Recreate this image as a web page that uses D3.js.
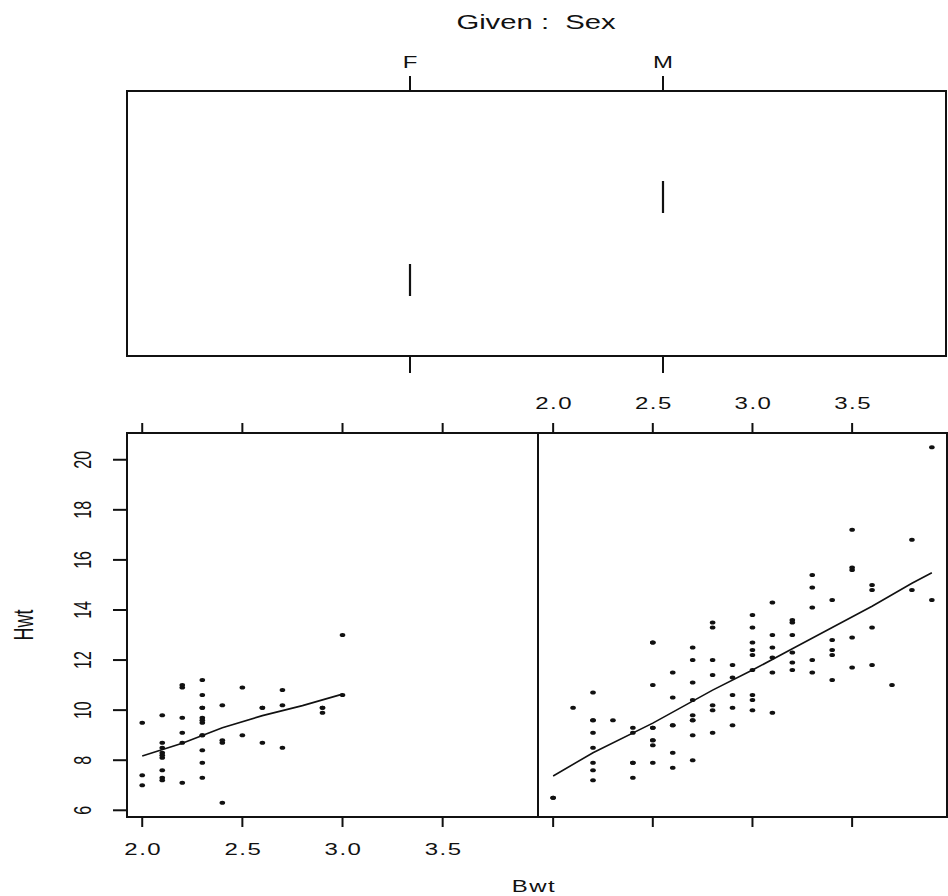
<!DOCTYPE html>
<html>
<head>
<meta charset="utf-8">
<script src="https://cdn.jsdelivr.net/npm/d3@7"></script>
<style>
  body { margin: 0; background: #fff; }
  text { font-family: "Liberation Sans", Arial, sans-serif; fill: #111; }
</style>
</head>
<body>
<div id="coplot"></div>
<script>
// cats data (Bwt, Hwt) split by Sex
const femaleBwt = [2.0,2.0,2.0,2.1,2.1,2.1,2.1,2.1,2.1,2.1,2.1,2.1,2.2,2.2,2.2,2.2,2.2,2.2,
  2.3,2.3,2.3,2.3,2.3,2.3,2.3,2.3,2.3,2.3,2.3,2.3,2.4,2.4,2.4,2.4,2.5,2.5,2.6,2.6,2.6,
  2.7,2.7,2.7,2.9,2.9,2.9,3.0,3.0];
const femaleHwt = [7.0,7.4,9.5,7.2,7.3,7.6,8.1,8.2,8.3,8.5,8.7,9.8,7.1,8.7,9.1,9.7,10.9,11.0,
  7.3,7.9,8.4,9.0,9.0,9.5,9.6,9.7,10.1,10.1,10.6,11.2,6.3,8.7,8.8,10.2,9.0,10.9,8.7,10.1,10.1,
  8.5,10.2,10.8,9.9,10.1,10.1,10.6,13.0];

const maleBwt = [2.0,2.0,2.1,2.2,2.2,2.2,2.2,2.2,2.2,2.2,2.2,2.3,2.4,2.4,2.4,2.4,2.4,
  2.5,2.5,2.5,2.5,2.5,2.5,2.5,2.5,2.5,2.6,2.6,2.6,2.6,2.6,2.6,
  2.7,2.7,2.7,2.7,2.7,2.7,2.7,2.7,2.7,2.8,2.8,2.8,2.8,2.8,2.8,2.8,
  2.9,2.9,2.9,2.9,2.9,3.0,3.0,3.0,3.0,3.0,3.0,3.0,3.0,3.0,
  3.1,3.1,3.1,3.1,3.1,3.1,3.2,3.2,3.2,3.2,3.2,3.2,3.3,3.3,3.3,3.3,3.3,
  3.4,3.4,3.4,3.4,3.4,3.5,3.5,3.5,3.5,3.5,3.6,3.6,3.6,3.6,3.7,3.8,3.8,3.9,3.9];
const maleHwt = [6.5,6.5,10.1,7.2,7.6,7.9,8.5,9.1,9.6,9.6,10.7,9.6,7.3,7.9,7.9,9.1,9.3,
  7.9,8.6,8.8,8.8,9.3,9.3,11.0,12.7,12.7,7.7,8.3,9.4,9.4,10.5,11.5,
  8.0,9.0,9.6,9.6,9.8,10.4,11.1,12.0,12.5,9.1,10.0,10.2,11.4,12.0,13.3,13.5,
  9.4,10.1,10.6,11.3,11.8,10.0,10.4,10.6,11.6,12.2,12.4,12.7,13.3,13.8,
  9.9,11.5,12.1,12.5,13.0,14.3,11.6,11.9,12.3,13.0,13.5,13.6,11.5,12.0,14.1,14.9,15.4,
  11.2,12.2,12.4,12.8,14.4,11.7,12.9,15.6,15.7,17.2,11.8,13.3,14.8,15.0,11.0,14.8,16.8,14.4,20.5];

// smooth lines
const femaleFitBwt = [2.0, 2.2, 2.4, 2.6, 2.8, 3.0];
const femaleFitHwt = [8.17, 8.68, 9.3, 9.78, 10.18, 10.64];
const maleFitBwt = [2.0, 2.2, 2.5, 2.8, 3.0, 3.2, 3.4, 3.6, 3.8, 3.9];
const maleFitHwt = [7.37, 8.3, 9.48, 10.8, 11.6, 12.45, 13.3, 14.15, 15.07, 15.49];

const sexLevels = ["F", "M"];
const xTicks = [2.0, 2.5, 3.0, 3.5];
const yTicks = [6, 8, 10, 12, 14, 16, 18, 20];

const width = 948, height = 896;
const sx = 1.5; // horizontal stretch of the lettering

const svg = d3.select("#coplot")
  .append("svg")
  .attr("width", width)
  .attr("height", height);

svg.append("rect").attr("width", width).attr("height", height).attr("fill", "#fff");

const hText = (x, y, txt, size, spacing = 0) =>
  svg.append("text")
    .attr("transform", `translate(${x},${y}) scale(${sx},1)`)
    .attr("text-anchor", "middle")
    .attr("font-size", size)
    .attr("letter-spacing", spacing)
    .style("white-space", "pre")
    .text(txt);

const vText = (x, y, txt, size) =>
  svg.append("text")
    .attr("transform", `translate(${x},${y}) scale(${sx},1) rotate(-90)`)
    .attr("text-anchor", "middle")
    .attr("font-size", size)
    .text(txt);

const line = (x1, y1, x2, y2, w = 2) =>
  svg.append("line")
    .attr("x1", x1).attr("y1", y1).attr("x2", x2).attr("y2", y2)
    .attr("stroke", "#111").attr("stroke-width", w);

// ---- given panel (top)
const gLeft = 127, gRight = 946, gTop = 91, gBottom = 356;
const xScaleG = d3.scaleLinear().domain([1 - 1.1186, 2 + 1.1186]).range([gLeft, gRight]);
const yScaleG = d3.scaleLinear().domain([0.0843, 3.277]).range([gBottom, gTop]);

hText(536, 29, "Given :  Sex", 19.5);

svg.append("rect")
  .attr("x", gLeft).attr("y", gTop)
  .attr("width", gRight - gLeft).attr("height", gBottom - gTop)
  .attr("fill", "none").attr("stroke", "#111").attr("stroke-width", 2);

sexLevels.forEach((lev, i) => {
  const x = xScaleG(i + 1);
  line(x, gTop - 15, x, gTop);
  line(x, gBottom, x, gBottom + 17);
  hText(x, 68, lev, 16);
  // the level bar
  line(x, yScaleG(i + 1 - 0.193), x, yScaleG(i + 1 + 0.193), 2.2);
});

// ---- dependence panels
const pTop = 433, pBottom = 817;
const panels = [
  { bwt: femaleBwt, hwt: femaleHwt, fx: femaleFitBwt, fy: femaleFitHwt, left: 127, right: 538, labelsBelow: true },
  { bwt: maleBwt, hwt: maleHwt, fx: maleFitBwt, fy: maleFitHwt, left: 538, right: 947, labelsBelow: false }
];

const yScale = d3.scaleLinear().domain([5.732, 21.068]).range([pBottom, pTop]);

panels.forEach((p, pi) => {
  const xScale = d3.scaleLinear().domain([1.924, 3.976]).range([p.left, p.right]);

  const g = svg.append("g");

  g.append("rect")
    .attr("x", p.left).attr("y", pTop)
    .attr("width", p.right - p.left).attr("height", pBottom - pTop)
    .attr("fill", "none").attr("stroke", "#111").attr("stroke-width", 2);

  // x ticks top and bottom
  xTicks.forEach(t => {
    const x = xScale(t);
    line(x, pTop - 10, x, pTop);
    line(x, pBottom, x, pBottom + 10);
    if (p.labelsBelow) hText(x + 1, 855, d3.format(".1f")(t), 16, 1);
    else hText(x + 1, 409, d3.format(".1f")(t), 16, 1);
  });

  // y ticks: left on first panel, right on last
  yTicks.forEach(t => {
    const y = yScale(t);
    if (pi === 0) {
      line(p.left - 14, y, p.left, y);
      vText(91, y, String(t), 16);
    } else {
      line(p.right, y, p.right + 14, y);
    }
  });

  // points
  g.selectAll("ellipse")
    .data(p.bwt.map((b, i) => [b, p.hwt[i]]))
    .join("ellipse")
      .attr("cx", d => xScale(d[0]))
      .attr("cy", d => yScale(d[1]))
      .attr("rx", 2.8)
      .attr("ry", 2)
      .attr("fill", "#111");

  // smooth
  g.append("path")
    .datum(p.fx.map((b, i) => [b, p.fy[i]]))
    .attr("d", d3.line().x(d => xScale(d[0])).y(d => yScale(d[1])))
    .attr("fill", "none")
    .attr("stroke", "#111")
    .attr("stroke-width", 1.6);
});

// axis titles
vText(33, 625, "Hwt", 18);
hText(534, 892, "Bwt", 16, 1);
</script>
</body>
</html>
